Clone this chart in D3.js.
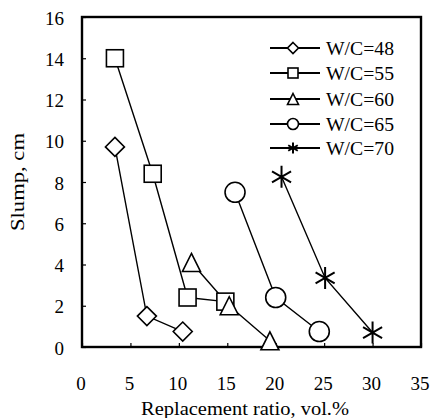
<!DOCTYPE html>
<html lang="en">
<head>
    <meta charset="UTF-8">
    <title>slump</title>
    <style>
        body{ margin:0; background:#fff; }
        svg{ position:absolute; left:0; top:0; }
        text{ font-family:"Liberation Serif","DejaVu Serif",serif; fill:#000; }
    </style>
</head>
<body>
<svg width="433" height="418"></svg>
<script src="https://d3js.org/d3.v7.min.js"></script>
<script>
    // data
    var seriesNames = ["W/C=48", "W/C=55", "W/C=60", "W/C=65", "W/C=70"];
    var seriesShapes = ["diamond", "square", "triangle", "circle", "star"];
    var wc48x = [3.4, 6.7, 10.4],        wc48y = [9.7, 1.5, 0.75];
    var wc55x = [3.4, 7.3, 10.9, 14.8],  wc55y = [14.0, 8.4, 2.4, 2.2];
    var wc60x = [11.3, 15.2, 19.4],      wc60y = [4.1, 2.0, 0.3];
    var wc65x = [15.8, 20.0, 24.5],      wc65y = [7.5, 2.4, 0.75];
    var wc70x = [20.6, 25.1, 30.0],      wc70y = [8.25, 3.35, 0.7];
    var xTicks = [0, 5, 10, 15, 20, 25, 30, 35];
    var yTicks = [0, 2, 4, 6, 8, 10, 12, 14, 16];

    var xsArr = [wc48x, wc55x, wc60x, wc65x, wc70x];
    var ysArr = [wc48y, wc55y, wc60y, wc65y, wc70y];
    var series = seriesNames.map(function(n, i){
        return {name:n, shape:seriesShapes[i], pts:xsArr[i].map(function(x, j){ return {x:x, y:ysArr[i][j]}; })};
    });

    var svg = d3.select("svg");
    var L = 82, R = 421, T = 17, B = 347;
    var xscale = d3.scaleLinear().domain([0, 35]).range([L, R]);
    var yscale = d3.scaleLinear().domain([0, 16]).range([B, T]);

    // axes: ticks inward, labels drawn separately
    var xAxis = svg.append("g").attr("transform", "translate(0," + B + ")")
        .call(d3.axisBottom(xscale).tickValues(xTicks).tickSizeInner(-4).tickSizeOuter(0).tickFormat(""));
    var yAxis = svg.append("g").attr("transform", "translate(" + L + ",0)")
        .call(d3.axisLeft(yscale).tickValues(yTicks).tickSizeInner(-4).tickSizeOuter(0).tickFormat(""));
    [xAxis, yAxis].forEach(function(a){
        a.select(".domain").remove();
        a.selectAll("line").attr("stroke", "#000").attr("stroke-width", 1.2);
    });

    svg.selectAll(".xl").data(xTicks).enter().append("text")
        .attr("x", function(d){ return xscale(d) - 1; }).attr("y", 390)
        .attr("text-anchor", "middle").attr("font-size", 19).text(function(d){ return d; });
    svg.selectAll(".yl").data(yTicks).enter().append("text")
        .attr("x", 64).attr("y", function(d){ return yscale(d) + 1; }).attr("dy", "0.35em")
        .attr("text-anchor", "end").attr("font-size", 19).text(function(d){ return d; });

    // frame
    svg.append("rect").attr("x", L).attr("y", T).attr("width", R - L).attr("height", B - T)
        .attr("fill", "none").attr("stroke", "#000").attr("stroke-width", 2.4);

    // axis titles
    svg.append("text").attr("x", 245).attr("y", 415).attr("text-anchor", "middle")
        .attr("font-size", 19).attr("textLength", 208).attr("lengthAdjust", "spacingAndGlyphs")
        .text("Replacement ratio, vol.%");
    svg.append("text").attr("transform", "translate(24,182) rotate(-90)").attr("text-anchor", "middle")
        .attr("font-size", 18).attr("textLength", 98).attr("lengthAdjust", "spacingAndGlyphs").text("Slump, cm");

    // marker drawing
    function marker(g, shape, s){
        if(shape == "diamond"){
            g.append("path").attr("d", "M0," + (-s/2) + "L" + (s/2) + ",0L0," + (s/2) + "L" + (-s/2) + ",0Z");
        }else if(shape == "square"){
            g.append("rect").attr("x", -s/2 + 0.5).attr("y", -s/2 + 0.5).attr("width", s - 1).attr("height", s - 1);
        }else if(shape == "triangle"){
            g.append("path").attr("d", "M0," + (-s/2) + "L" + (s/2) + "," + (s/2) + "L" + (-s/2) + "," + (s/2) + "Z");
        }else if(shape == "circle"){
            g.append("circle").attr("r", s/2);
        }else{
            var r = s/2, a = Math.cos(Math.PI/6)*r, b = r/2;
            g.append("path").attr("d", "M0," + (-r) + "L0," + r + "M" + (-a) + "," + (-b) + "L" + a + "," + b + "M" + (-a) + "," + b + "L" + a + "," + (-b));
        }
        g.selectAll("*").attr("fill", "#fff").attr("stroke", "#000").attr("stroke-width", shape == "star" ? 2 : 1.6);
    }
    var bigSize = {diamond:19, square:18, triangle:18, circle:20, star:22};

    var line = d3.line().x(function(d){ return xscale(d.x); }).y(function(d){ return yscale(d.y); });
    series.forEach(function(s){
        svg.append("path").attr("d", line(s.pts)).attr("fill", "none").attr("stroke", "#000").attr("stroke-width", 1.4);
    });
    series.forEach(function(s){
        s.pts.forEach(function(p){
            var g = svg.append("g").attr("transform", "translate(" + xscale(p.x) + "," + yscale(p.y) + ")");
            marker(g, s.shape, bigSize[s.shape]);
        });
    });

    // legend
    var legY = [48, 73, 99, 124, 148];
    series.forEach(function(s, i){
        var g = svg.append("g").attr("transform", "translate(0," + legY[i] + ")");
        g.append("line").attr("x1", 270).attr("x2", 320).attr("stroke", "#000").attr("stroke-width", 1.8);
        marker(g.append("g").attr("transform", "translate(293,0)"), s.shape, 11);
        g.append("text").attr("x", 326).attr("dy", "0.35em").attr("font-size", 19)
            .attr("textLength", 68).attr("lengthAdjust", "spacingAndGlyphs").text(s.name);
    });
</script>
</body>
</html>
